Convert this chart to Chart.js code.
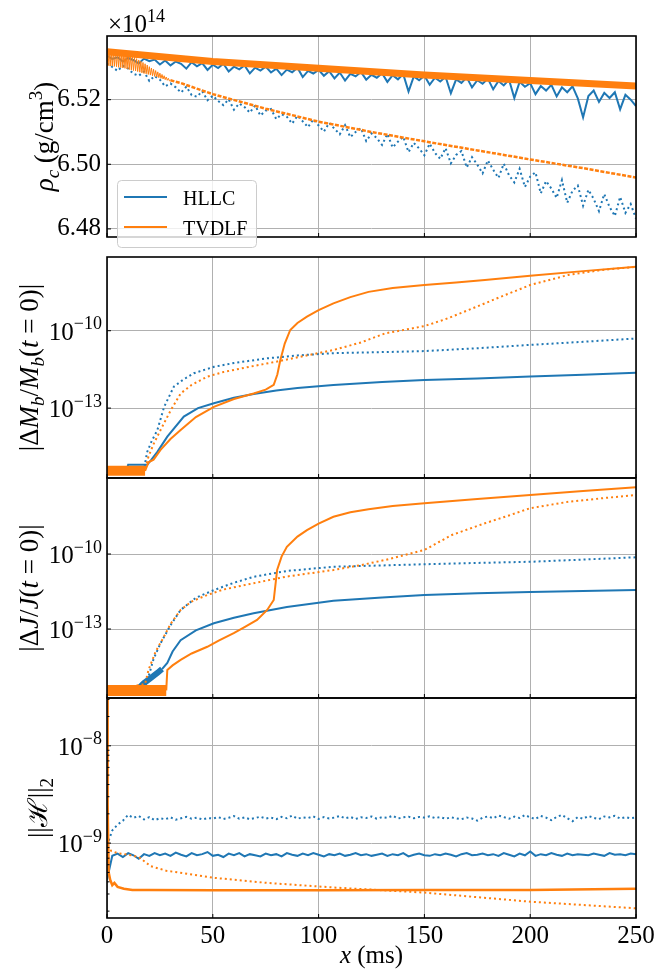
<!DOCTYPE html>
<html>
<head>
<meta charset="utf-8">
<script src="https://cdn.jsdelivr.net/npm/chart.js@4.4.1/dist/chart.umd.min.js"></script>
<style>
  html, body { margin: 0; padding: 0; background: #fff; }
  #wrap { position: relative; width: 670px; height: 975px; }
  #wrap canvas { position: absolute; left: 0; }
</style>
</head>
<body>
<div id="wrap">
  <canvas id="rhoChart" width="670" height="258" style="top:0px"></canvas>
  <canvas id="mbChart" width="670" height="223" style="top:256px"></canvas>
  <canvas id="jChart" width="670" height="222" style="top:477px"></canvas>
  <canvas id="hChart" width="670" height="278" style="top:697px"></canvas>
</div>
<script>
const blue = '#1f77b4';
const orange = '#ff7f0e';
const serif = "'Liberation Serif', 'DejaVu Serif', serif";

const legendLabels = ['HLLC', 'TVDLF'];
const xTicks = [0, 50, 100, 150, 200, 250];
const rhoTicks = [6.48, 6.50, 6.52];
const mbTicks = [1e-13, 1e-10];
const jTicks = [1e-13, 1e-10];
const hTicks = [1e-9, 1e-8];
const hMinorTicks = [2e-10, 3e-10, 4e-10, 5e-10, 6e-10, 7e-10, 8e-10, 9e-10,
  2e-9, 3e-9, 4e-9, 5e-9, 6e-9, 7e-9, 8e-9, 9e-9, 2e-8, 3e-8];

// time (ms) sampled every 2.5 ms for the noisy runs
const timeGrid = [0,
  2.5, 5, 7.5, 10, 12.5, 15, 17.5, 20, 22.5, 25,
  27.5, 30, 32.5, 35, 37.5, 40, 42.5, 45, 47.5, 50,
  52.5, 55, 57.5, 60, 62.5, 65, 67.5, 70, 72.5, 75,
  77.5, 80, 82.5, 85, 87.5, 90, 92.5, 95, 97.5, 100,
  102.5, 105, 107.5, 110, 112.5, 115, 117.5, 120, 122.5, 125,
  127.5, 130, 132.5, 135, 137.5, 140, 142.5, 145, 147.5, 150,
  152.5, 155, 157.5, 160, 162.5, 165, 167.5, 170, 172.5, 175,
  177.5, 180, 182.5, 185, 187.5, 190, 192.5, 195, 197.5, 200,
  202.5, 205, 207.5, 210, 212.5, 215, 217.5, 220, 222.5, 225,
  227.5, 230, 232.5, 235, 237.5, 240, 242.5, 245, 247.5, 250];

// central density, units of 1e14 g/cm^3
const rhoHllcSolid = [6.5336,
  6.5326, 6.5331, 6.5318, 6.5329, 6.5322, 6.5312, 6.5327, 6.5319, 6.5324, 6.5309,
  6.5321, 6.5306, 6.5318, 6.5311, 6.5296, 6.5316, 6.5303, 6.5313, 6.5292, 6.5308,
  6.5298, 6.5311, 6.5287, 6.5302, 6.5294, 6.5306, 6.5281, 6.5299, 6.5290, 6.5302,
  6.5284, 6.5296, 6.5276, 6.5293, 6.5285, 6.5299, 6.5270, 6.5289, 6.5281, 6.5292,
  6.5274, 6.5288, 6.5266, 6.5284, 6.5259, 6.5280, 6.5272, 6.5286, 6.5262, 6.5277,
  6.5268, 6.5282, 6.5255, 6.5276, 6.5263, 6.5279, 6.5225, 6.5272, 6.5260, 6.5274,
  6.5246, 6.5268, 6.5256, 6.5271, 6.5220, 6.5263, 6.5252, 6.5269, 6.5238, 6.5260,
  6.5249, 6.5265, 6.5232, 6.5258, 6.5244, 6.5262, 6.5205, 6.5255, 6.5240, 6.5251,
  6.5217, 6.5242, 6.5228, 6.5246, 6.5210, 6.5238, 6.5223, 6.5241, 6.5204, 6.5145,
  6.5211, 6.5228, 6.5193, 6.5221, 6.5205, 6.5223, 6.5170, 6.5215, 6.5200, 6.5180];
const rhoHllcDotted = [6.5312,
  6.5301, 6.5289, 6.5305, 6.5296, 6.5280, 6.5274, 6.5287, 6.5258, 6.5273, 6.5262,
  6.5241, 6.5250, 6.5238, 6.5222, 6.5240, 6.5214, 6.5209, 6.5226, 6.5198, 6.5212,
  6.5196, 6.5183, 6.5201, 6.5169, 6.5188, 6.5177, 6.5160, 6.5182, 6.5151, 6.5166,
  6.5171, 6.5140, 6.5155, 6.5147, 6.5126, 6.5150, 6.5133, 6.5115, 6.5139, 6.5120,
  6.5101, 6.5128, 6.5110, 6.5093, 6.5121, 6.5084, 6.5100, 6.5112, 6.5072, 6.5095,
  6.5081, 6.5060, 6.5094, 6.5052, 6.5070, 6.5085, 6.5038, 6.5066, 6.5049, 6.5028,
  6.5064, 6.5035, 6.5017, 6.5050, 6.5003, 6.5029, 6.5041, 6.4990, 6.5022, 6.4999,
  6.4972, 6.5012, 6.4983, 6.4958, 6.5002, 6.4966, 6.4944, 6.4986, 6.4930, 6.4962,
  6.4975, 6.4910, 6.4948, 6.4925, 6.4896, 6.4951, 6.4881, 6.4918, 6.4934, 6.4872,
  6.4921, 6.4893, 6.4855, 6.4908, 6.4868, 6.4840, 6.4899, 6.4850, 6.4877, 6.4832];
const rhoTvdlfSolidX = [0, 50, 100, 150, 200, 250];
const rhoTvdlfSolidY = [6.5348, 6.5318, 6.5297, 6.5276, 6.5259, 6.5242];
const rhoTvdlfDottedX = [0, 0.5, 1, 1.5, 2, 2.5, 3, 3.5, 4, 4.5, 5, 5.5, 6, 6.5, 7, 7.5, 8, 8.5, 9, 9.5,
  10, 10.5, 11, 11.5, 12, 12.5, 13, 13.5, 14, 14.5, 15, 15.5, 16, 16.5, 17, 17.5, 18, 18.5, 19, 19.5,
  20, 20.5, 21, 21.5, 22, 22.5, 23, 23.5, 24, 24.5, 25, 25.5, 26, 26.5, 27, 27.5, 28, 28.5, 29, 29.5,
  30, 35, 50, 75, 100, 125, 150, 175, 200, 225, 250];
const rhoTvdlfDottedY = [6.5350, 6.5305, 6.5350, 6.5304, 6.5350, 6.5304, 6.5349, 6.5303, 6.5349, 6.5302,
  6.5348, 6.5300, 6.5348, 6.5299, 6.5347, 6.5298, 6.5346, 6.5297, 6.5345, 6.5295,
  6.5342, 6.5293, 6.5339, 6.5292, 6.5335, 6.5290, 6.5331, 6.5289, 6.5327, 6.5287,
  6.5323, 6.5285, 6.5319, 6.5283, 6.5315, 6.5281, 6.5311, 6.5280, 6.5307, 6.5278,
  6.5302, 6.5276, 6.5298, 6.5274, 6.5294, 6.5272, 6.5290, 6.5270, 6.5286, 6.5268,
  6.5282, 6.5266, 6.5278, 6.5264, 6.5274, 6.5262, 6.5270, 6.5260, 6.5266, 6.5258,
  6.5260, 6.5251, 6.5217, 6.5172, 6.5132, 6.5100, 6.5071, 6.5043, 6.5015, 6.4988, 6.4959];

// |dMb / Mb(t=0)|
const mbHllcSolidX = [0, 9, 10, 17, 19, 21, 23.8, 28.5, 36.3, 43, 50.5, 60, 69.3, 80, 90, 107, 130, 150, 175, 200, 225, 250];
const mbHllcSolidY = [3.5e-16, 3.5e-16, 6.3e-16, 6.3e-16, 6.3e-16, 1.0e-15, 2.0e-15, 7.8e-15, 4.7e-14, 1.0e-13, 1.55e-13,
  2.5e-13, 3.5e-13, 4.8e-13, 6.0e-13, 7.9e-13, 1.02e-12, 1.23e-12, 1.41e-12, 1.66e-12, 1.95e-12, 2.34e-12];
const mbHllcDottedX = [0, 17.5, 18.3, 19, 21, 23.8, 27, 31.6, 36, 41, 50.5, 60, 75.7, 90, 107, 130, 150, 175, 200, 225, 250];
const mbHllcDottedY = [4.0e-16, 4.0e-16, 1.0e-15, 2.0e-15, 5.0e-15, 1.41e-14, 1.12e-13, 6.8e-13, 1.26e-12, 2.24e-12, 3.98e-12,
  5.6e-12, 8.5e-12, 1.10e-11, 1.35e-11, 1.48e-11, 1.62e-11, 2.09e-11, 2.82e-11, 3.72e-11, 5.0e-11];
const mbTvdlfSolidX = [0, 18, 19.6, 22, 25.3, 30, 34.8, 42, 50.5, 60, 69.3, 75, 78.8, 80.5, 81.9, 84, 86.6, 90, 94.5,
  100, 107, 115, 123.6, 135, 150, 165, 178.6, 200, 225, 250];
const mbTvdlfSolidY = [3.7e-16, 3.7e-16, 7.9e-16, 1.0e-15, 2.4e-15, 6.3e-15, 1.41e-14, 4.5e-14, 1.12e-13, 2.24e-13, 3.7e-13,
  5.2e-13, 7.9e-13, 2.0e-12, 7.2e-12, 3.16e-11, 1.07e-10, 2.0e-10, 3.5e-10, 6.3e-10, 1.15e-9, 2.0e-9, 3.2e-9, 4.5e-9,
  5.9e-9, 7.4e-9, 9.3e-9, 1.35e-8, 2.04e-8, 3.0e-8];
const mbTvdlfDottedX = [0, 18, 19.6, 22, 25.3, 30, 34.8, 40, 47.4, 55, 69.3, 80, 91.4, 107, 120, 131.5, 150, 160, 170.8,
  186.3, 200, 218, 233.6, 250];
const mbTvdlfDottedY = [3.7e-16, 4.0e-16, 1.32e-15, 4.0e-15, 1.41e-14, 7.9e-14, 3.7e-13, 7.9e-13, 1.66e-12, 2.5e-12,
  4.3e-12, 6.3e-12, 9.8e-12, 1.78e-11, 3.5e-11, 7.9e-11, 1.51e-10, 2.8e-10, 6.3e-10, 2.1e-9, 5.9e-9, 1.45e-8, 2.24e-8, 3.0e-8];

// |dJ / J(t=0)|
const jHllcSolidX = [0, 14, 17.5, 20, 23.8, 26, 28.5, 31, 34.8, 42, 50.5, 60, 69.3, 85, 107, 130, 150, 175, 200, 225, 250];
const jHllcSolidY = [3.5e-16, 3.5e-16, 6.9e-16, 1.0e-15, 1.74e-15, 2.5e-15, 4.4e-15, 1.26e-14, 3.6e-14, 8.9e-14, 1.7e-13,
  2.8e-13, 4.3e-13, 7.6e-13, 1.35e-12, 1.82e-12, 2.3e-12, 2.7e-12, 3.0e-12, 3.3e-12, 3.6e-12];
const jHllcDottedX = [0, 18, 19.6, 22, 25.3, 30, 34.8, 42, 50.5, 60, 69.3, 85, 107, 130, 150, 175, 200, 225, 250];
const jHllcDottedY = [3.5e-16, 5.0e-16, 1.23e-15, 6.3e-15, 2.7e-14, 1.41e-13, 5.8e-13, 1.78e-12, 3.6e-12, 7.1e-12, 1.23e-11,
  2.1e-11, 3.1e-11, 3.5e-11, 3.9e-11, 4.4e-11, 4.9e-11, 6.0e-11, 7.4e-11];
const jTvdlfSolidX = [0, 28, 28.5, 31, 34.8, 40, 47.4, 53, 59.9, 65, 70.9, 75.7, 78.8, 80.4, 82.5, 85, 90, 94.5, 100, 107,
  115, 123.6, 135, 150, 175, 200, 225, 250];
const jTvdlfSolidY = [3.5e-16, 3.5e-16, 2.3e-15, 3.5e-15, 5.8e-15, 1.05e-14, 1.95e-14, 3.5e-14, 6.8e-14, 1.2e-13, 2.3e-13,
  5.8e-13, 1.45e-12, 2.3e-11, 7.9e-11, 1.95e-10, 5.0e-10, 9.1e-10, 1.66e-9, 3.1e-9, 4.7e-9, 6.2e-9, 8.3e-9, 1.07e-8,
  1.58e-8, 2.3e-8, 3.3e-8, 4.7e-8];
const jTvdlfDottedX = [0, 18, 19.6, 23, 26.9, 30, 34.8, 40, 47.4, 55, 69.3, 85, 107, 120, 131.5, 150, 163, 178.6, 190, 200,
  218, 235, 250];
const jTvdlfDottedY = [3.5e-16, 6.3e-16, 2.3e-15, 1.26e-14, 4.9e-14, 1.58e-13, 5.8e-13, 1.26e-12, 2.3e-12, 3.8e-12, 6.8e-12,
  1.26e-11, 2.3e-11, 3.6e-11, 5.8e-11, 1.45e-10, 5.8e-10, 1.7e-9, 3.5e-9, 6.8e-9, 1.23e-8, 1.74e-8, 2.3e-8];

// ||H||_2
const hHllcSolid = [4.2e-10,
  7.4e-10, 7.8e-10, 7.2e-10, 7.9e-10, 7.5e-10, 6.9e-10, 7.7e-10, 7.4e-10, 7.9e-10, 7.5e-10,
  7.8e-10, 7.4e-10, 8.0e-10, 7.6e-10, 7.3e-10, 7.9e-10, 7.5e-10, 7.7e-10, 8.1e-10, 7.4e-10,
  7.6e-10, 7.2e-10, 7.8e-10, 7.5e-10, 7.9e-10, 7.3e-10, 7.7e-10, 7.5e-10, 7.3e-10, 7.8e-10,
  7.5e-10, 7.7e-10, 7.3e-10, 7.9e-10, 7.6e-10, 7.4e-10, 7.8e-10, 7.5e-10, 7.9e-10, 7.6e-10,
  7.3e-10, 7.7e-10, 7.5e-10, 7.8e-10, 7.4e-10, 7.6e-10, 7.9e-10, 7.5e-10, 7.7e-10, 7.4e-10,
  7.6e-10, 7.8e-10, 7.4e-10, 7.7e-10, 7.5e-10, 7.9e-10, 7.3e-10, 7.6e-10, 7.8e-10, 7.5e-10,
  7.4e-10, 7.7e-10, 7.5e-10, 7.8e-10, 7.6e-10, 7.3e-10, 7.7e-10, 7.9e-10, 7.5e-10, 7.6e-10,
  7.8e-10, 7.5e-10, 7.7e-10, 7.4e-10, 7.9e-10, 7.6e-10, 7.3e-10, 7.8e-10, 7.5e-10, 8.2e-10,
  7.4e-10, 7.7e-10, 7.5e-10, 7.9e-10, 7.6e-10, 7.4e-10, 7.8e-10, 7.5e-10, 7.7e-10, 7.6e-10,
  7.5e-10, 7.8e-10, 7.6e-10, 7.4e-10, 7.9e-10, 7.6e-10, 7.7e-10, 7.5e-10, 7.8e-10, 7.7e-10];
const hHllcDotted = [0.95e-9,
  1.35e-9, 1.55e-9, 1.70e-9, 1.95e-9, 1.82e-9, 1.90e-9, 1.75e-9, 1.85e-9, 1.72e-9, 1.80e-9,
  1.76e-9, 1.84e-9, 1.74e-9, 1.80e-9, 1.86e-9, 1.78e-9, 1.83e-9, 1.75e-9, 1.81e-9, 1.79e-9,
  1.85e-9, 1.77e-9, 1.82e-9, 1.90e-9, 1.78e-9, 1.84e-9, 1.76e-9, 1.81e-9, 1.87e-9, 1.79e-9,
  1.83e-9, 1.76e-9, 1.86e-9, 1.80e-9, 1.92e-9, 1.78e-9, 1.84e-9, 1.81e-9, 1.88e-9, 1.77e-9,
  1.85e-9, 1.79e-9, 1.83e-9, 1.90e-9, 1.80e-9, 1.86e-9, 1.77e-9, 1.84e-9, 1.81e-9, 1.88e-9,
  1.78e-9, 1.85e-9, 1.82e-9, 1.91e-9, 1.79e-9, 1.84e-9, 1.87e-9, 1.80e-9, 1.86e-9, 1.83e-9,
  1.89e-9, 1.81e-9, 1.85e-9, 1.78e-9, 1.84e-9, 1.80e-9, 1.76e-9, 1.83e-9, 1.79e-9, 1.70e-9,
  1.82e-9, 1.88e-9, 1.80e-9, 1.92e-9, 1.85e-9, 1.78e-9, 1.87e-9, 1.81e-9, 1.94e-9, 1.84e-9,
  1.77e-9, 1.90e-9, 1.83e-9, 1.72e-9, 1.86e-9, 1.95e-9, 1.80e-9, 1.68e-9, 1.85e-9, 1.78e-9,
  1.90e-9, 1.82e-9, 1.76e-9, 1.88e-9, 1.84e-9, 1.91e-9, 1.79e-9, 1.85e-9, 1.80e-9, 1.83e-9];
const hTvdlfSolidX = [0, 0.3, 0.8, 1.5, 2.5, 3.5, 5, 8, 12, 20, 50, 100, 150, 200, 250];
const hTvdlfSolidY = [4.0e-8, 2.5e-9, 5.0e-10, 4.2e-10, 3.7e-10, 3.9e-10, 3.55e-10, 3.4e-10, 3.3e-10, 3.3e-10, 3.27e-10,
  3.27e-10, 3.3e-10, 3.3e-10, 3.4e-10];
const hTvdlfDottedX = [0, 2, 5, 10, 15, 20.6, 28, 36.3, 50.5, 75.7, 107, 150, 200, 250];
const hTvdlfDottedY = [9.3e-10, 8.3e-10, 7.9e-10, 7.6e-10, 7.2e-10, 5.8e-10, 5.2e-10, 4.9e-10, 4.4e-10, 3.9e-10, 3.5e-10,
  3.1e-10, 2.5e-10, 2.14e-10];

function series(label, xs, ys, color, dotted, width, segment) {
  const ds = {
    label: label,
    data: xs.map((x, i) => ({ x: x, y: ys[i] })),
    borderColor: color,
    borderWidth: width,
    borderDash: dotted ? [2, 3] : [],
    pointRadius: 0,
    tension: 0,
    fill: false,
    clip: 0,
    order: color === orange ? 1 : 2
  };
  if (segment) ds.segment = segment;
  return ds;
}

// thicker stroke while the run still sits at round-off level
function thickUntil(xEnd, w, normal) {
  return { borderWidth: ctx => ctx.p1.parsed.x <= xEnd ? w : normal };
}

function fontOf(s, size) {
  const sz = (s.sub || s.sup) ? Math.round(size * 0.7) : size;
  return (s.it ? 'italic ' : '') + sz + 'px ' + serif;
}

function drawRich(ctx, segs, x, y, size, align) {
  let w = 0;
  segs.forEach(s => { ctx.font = fontOf(s, size); w += ctx.measureText(s.t).width; });
  let cx = align === 'center' ? x - w / 2 : (align === 'right' ? x - w : x);
  ctx.textAlign = 'left';
  segs.forEach(s => {
    ctx.font = fontOf(s, size);
    const dy = s.sub ? size * 0.22 : (s.sup ? -size * 0.42 : 0);
    ctx.fillText(s.t, cx, y + dy);
    cx += ctx.measureText(s.t).width;
  });
}

function decor(cfg) {
  return {
    id: 'decor',
    afterDraw(chart) {
      const ctx = chart.ctx, a = chart.chartArea;
      const sx = chart.scales.x, sy = chart.scales.y;
      ctx.save();
      ctx.strokeStyle = '#000';
      ctx.lineWidth = 1;
      ctx.beginPath();
      xTicks.forEach(v => {
        const p = sx.getPixelForValue(v);
        ctx.moveTo(p, a.bottom); ctx.lineTo(p, a.bottom - 4);
      });
      cfg.yTicks.forEach(v => {
        const p = sy.getPixelForValue(v);
        ctx.moveTo(a.left, p); ctx.lineTo(a.left + 4, p);
      });
      (cfg.minor || []).forEach(v => {
        const p = sy.getPixelForValue(v);
        if (p > a.top && p < a.bottom) { ctx.moveTo(a.left, p); ctx.lineTo(a.left + 2.5, p); }
      });
      ctx.stroke();
      ctx.lineWidth = 1.6;
      ctx.strokeRect(a.left, a.top, a.right - a.left, a.bottom - a.top);

      ctx.fillStyle = '#000';
      ctx.textBaseline = 'alphabetic';
      if (cfg.logLabels) {
        cfg.yTicks.forEach(v => {
          const p = sy.getPixelForValue(v);
          const e = Math.round(Math.log10(v));
          drawRich(ctx, [{ t: '10' }, { t: '\u2212' + Math.abs(e), sup: true }], 102, p + 9, 25, 'right');
        });
      }

      // rotated y title
      ctx.save();
      ctx.translate(cfg.titleX, (a.top + a.bottom) / 2);
      ctx.rotate(-Math.PI / 2);
      drawRich(ctx, cfg.title, 0, 9, 27, 'center');
      ctx.restore();

      if (cfg.offset) {
        drawRich(ctx, [{ t: '\u00d710' }, { t: '14', sup: true }], 108, 32, 25, 'left');
      }
      if (cfg.legend) {
        ctx.beginPath();
        ctx.roundRect(117.5, 180.5, 139, 67, 4);
        ctx.fillStyle = 'rgba(255,255,255,0.8)';
        ctx.fill();
        ctx.strokeStyle = '#cccccc';
        ctx.lineWidth = 1;
        ctx.stroke();
        [blue, orange].forEach((c, i) => {
          const y = 197 + 30 * i;
          ctx.strokeStyle = c;
          ctx.lineWidth = 2;
          ctx.beginPath();
          ctx.moveTo(124, y); ctx.lineTo(167, y);
          ctx.stroke();
          ctx.fillStyle = '#000';
          ctx.font = '20px ' + serif;
          ctx.fillText(legendLabels[i], 183, y + 8);
        });
      }
      if (cfg.xTitle) {
        drawRich(ctx, [{ t: 'x', it: true }, { t: ' (ms)' }], (a.left + a.right) / 2, 266, 25, 'center');
      }
      ctx.restore();
    }
  };
}

function xScale(showLabels) {
  return {
    type: 'linear', min: 0, max: 250,
    afterBuildTicks: s => { s.ticks = xTicks.map(v => ({ value: v })); },
    grid: { color: '#b0b0b0', lineWidth: 1, drawTicks: false },
    border: { display: false },
    ticks: { display: showLabels, autoSkip: false, maxRotation: 0, padding: 3, color: '#000',
      font: { family: serif, size: 25 } },
    afterFit: s => { s.height = showLabels ? 57 : 0; }
  };
}

function logScale(min, max, ticks) {
  return {
    type: 'logarithmic', min: min, max: max,
    afterBuildTicks: s => { s.ticks = ticks.map(v => ({ value: v })); },
    grid: { color: '#b0b0b0', lineWidth: 1, drawTicks: false },
    border: { display: false },
    ticks: { display: false },
    afterFit: s => { s.width = 107; }
  };
}

function makeChart(id, datasets, yScale, padding, showX, cfg) {
  return new Chart(document.getElementById(id), {
    type: 'line',
    data: { datasets: datasets },
    options: {
      responsive: false,
      animation: false,
      layout: { padding: padding },
      plugins: { legend: { display: false }, tooltip: { enabled: false } },
      scales: { x: xScale(showX), y: yScale }
    },
    plugins: [decor(cfg)]
  });
}

const eq = ' = ';

makeChart('rhoChart', [
  series('HLLC', timeGrid, rhoHllcSolid, blue, false, 2),
  series('HLLC', timeGrid, rhoHllcDotted, blue, true, 2),
  series('TVDLF', rhoTvdlfSolidX, rhoTvdlfSolidY, orange, false, 7),
  series('TVDLF', rhoTvdlfDottedX, rhoTvdlfDottedY, orange, true, 2.5, {
    borderWidth: ctx => ctx.p1.parsed.x <= 30 ? 1 : 2.5,
    borderDash: ctx => ctx.p1.parsed.x <= 30 ? [] : [4, 1.5]
  })
], {
  type: 'linear', min: 6.4775, max: 6.5397,
  afterBuildTicks: s => { s.ticks = rhoTicks.map(v => ({ value: v })); },
  grid: { color: '#b0b0b0', lineWidth: 1, drawTicks: false },
  border: { display: false },
  ticks: { padding: 6, color: '#000', font: { family: serif, size: 25 }, callback: v => v.toFixed(2) },
  afterFit: s => { s.width = 107; }
}, { left: 0, right: 34, top: 36, bottom: 1 }, false, {
  yTicks: rhoTicks, titleX: 44, offset: true, legend: true,
  title: [{ t: '\u03c1', it: true }, { t: 'c', it: true, sub: true }, { t: ' (g/cm' }, { t: '3', sup: true }, { t: ')' }]
});

makeChart('mbChart', [
  series('HLLC', mbHllcSolidX, mbHllcSolidY, blue, false, 2),
  series('HLLC', mbHllcDottedX, mbHllcDottedY, blue, true, 2),
  series('TVDLF', mbTvdlfSolidX, mbTvdlfSolidY, orange, false, 2, thickUntil(18, 10, 2)),
  series('TVDLF', mbTvdlfDottedX, mbTvdlfDottedY, orange, true, 2)
], logScale(1.95e-16, 7.2e-8, mbTicks), { left: 0, right: 34, top: 1, bottom: 1 }, false, {
  yTicks: mbTicks, logLabels: true, titleX: 29,
  title: [{ t: '|\u0394' }, { t: 'M', it: true }, { t: 'b', it: true, sub: true }, { t: '/' }, { t: 'M', it: true },
    { t: 'b', it: true, sub: true }, { t: '(' }, { t: 't', it: true }, { t: eq + '0)|' }]
});

makeChart('jChart', [
  series('HLLC', jHllcSolidX, jHllcSolidY, blue, false, 2, thickUntil(26, 6, 2)),
  series('HLLC', jHllcDottedX, jHllcDottedY, blue, true, 2),
  series('TVDLF', jTvdlfSolidX, jTvdlfSolidY, orange, false, 2, thickUntil(28, 11, 2)),
  series('TVDLF', jTvdlfDottedX, jTvdlfDottedY, orange, true, 2)
], logScale(1.74e-16, 1.1e-7, jTicks), { left: 0, right: 34, top: 1, bottom: 1 }, false, {
  yTicks: jTicks, logLabels: true, titleX: 29,
  title: [{ t: '|\u0394' }, { t: 'J', it: true }, { t: '/' }, { t: 'J', it: true }, { t: '(' }, { t: 't', it: true },
    { t: eq + '0)|' }]
});

makeChart('hChart', [
  series('HLLC', timeGrid, hHllcSolid, blue, false, 2),
  series('HLLC', timeGrid, hHllcDotted, blue, true, 2),
  series('TVDLF', hTvdlfSolidX, hTvdlfSolidY, orange, false, 2.5),
  series('TVDLF', hTvdlfDottedX, hTvdlfDottedY, orange, true, 2)
], logScale(1.7e-10, 3.1e-8, hTicks), { left: 0, right: 34, top: 1, bottom: 0 }, true, {
  yTicks: hTicks, minor: hMinorTicks, logLabels: true, titleX: 38, xTitle: true,
  title: [{ t: '||\u210b||' }, { t: '2', sub: true }]
});
</script>
</body>
</html>
